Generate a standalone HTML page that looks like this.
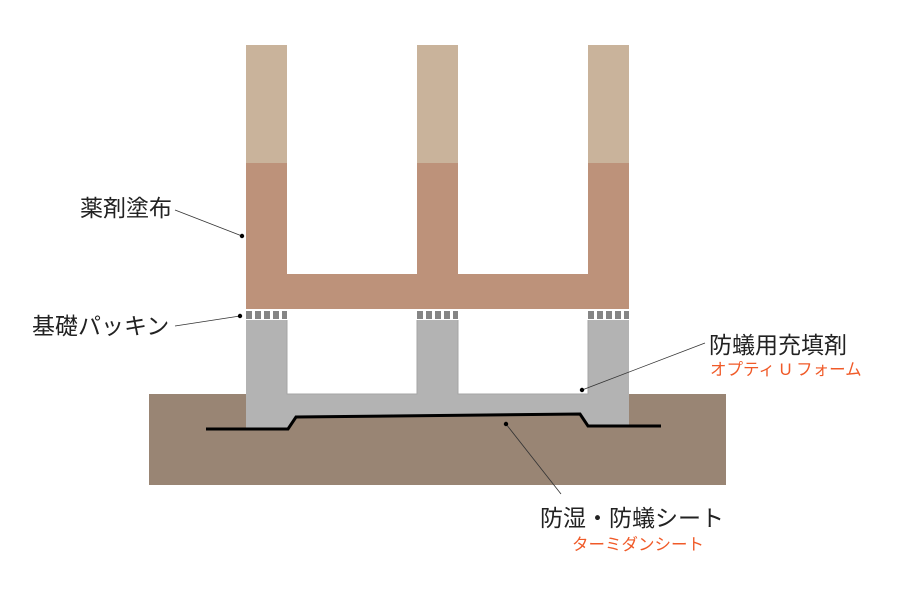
<!DOCTYPE html>
<html><head><meta charset="utf-8"><style>
body{margin:0;background:#fff;width:900px;height:600px;overflow:hidden}
svg{display:block}
text{font-family:"Liberation Sans","Noto Sans CJK JP",sans-serif}
</style></head><body>
<svg width="900" height="600" viewBox="0 0 900 600">
<rect x="149" y="394" width="577" height="91" fill="#998574"/>
<path d="M246 320 H287 V394 H417 V320 H458 V394 H588 V320 H629 V426 H588 L580 414 L296 417 L288 429 H246 Z" fill="#b3b3b3"/>
<path d="M287 320 V394 H417 V320 M458 320 V394 H588 V320" fill="none" stroke="#a5a5a5" stroke-width="1"/>
<g fill="#858585">
<rect x="246" y="311" width="6" height="8"/><rect x="255" y="311" width="6" height="8"/><rect x="264" y="311" width="6" height="8"/><rect x="273" y="311" width="6" height="8"/><rect x="282" y="311" width="5" height="8"/>
<rect x="417" y="311" width="6" height="8"/><rect x="426" y="311" width="6" height="8"/><rect x="435" y="311" width="6" height="8"/><rect x="444" y="311" width="6" height="8"/><rect x="453" y="311" width="5" height="8"/>
<rect x="588" y="311" width="6" height="8"/><rect x="597" y="311" width="6" height="8"/><rect x="606" y="311" width="6" height="8"/><rect x="615" y="311" width="6" height="8"/><rect x="624" y="311" width="5" height="8"/>
</g>
<g fill="#c9b39b">
<rect x="246" y="45" width="41" height="118"/><rect x="417" y="45" width="41" height="118"/><rect x="588" y="45" width="41" height="118"/>
</g>
<path d="M246 163 H287 V274 H417 V163 H458 V274 H588 V163 H629 V309 H246 Z" fill="#bd927a"/>
<path d="M206 429 H288 L296 417 L580 414 L588 426 H661" fill="none" stroke="#000" stroke-width="3"/>
<g stroke="#333" stroke-width="0.8">
<line x1="175" y1="210" x2="242" y2="236"/>
<line x1="175" y1="326" x2="240" y2="316"/>
<line x1="705" y1="343" x2="582" y2="390"/>
<line x1="561" y1="494" x2="506" y2="424"/>
</g>
<g fill="#000"><circle cx="242" cy="236" r="2.2"/><circle cx="240" cy="316" r="2.2"/><circle cx="582" cy="390" r="2.2"/><circle cx="506" cy="424" r="2.2"/></g>
<g font-size="23" fill="#222">
<text x="80" y="216">薬剤塗布</text>
<text x="32" y="334">基礎パッキン</text>
<text x="709" y="353">防蟻用充填剤</text>
<text x="540" y="526">防湿・防蟻シート</text>
</g>
<g font-size="16.5" fill="#f05a28">
<text x="710" y="375">オプティ U フォーム</text>
<text x="572" y="550">ターミダンシート</text>
</g>
</svg>
</body></html>
